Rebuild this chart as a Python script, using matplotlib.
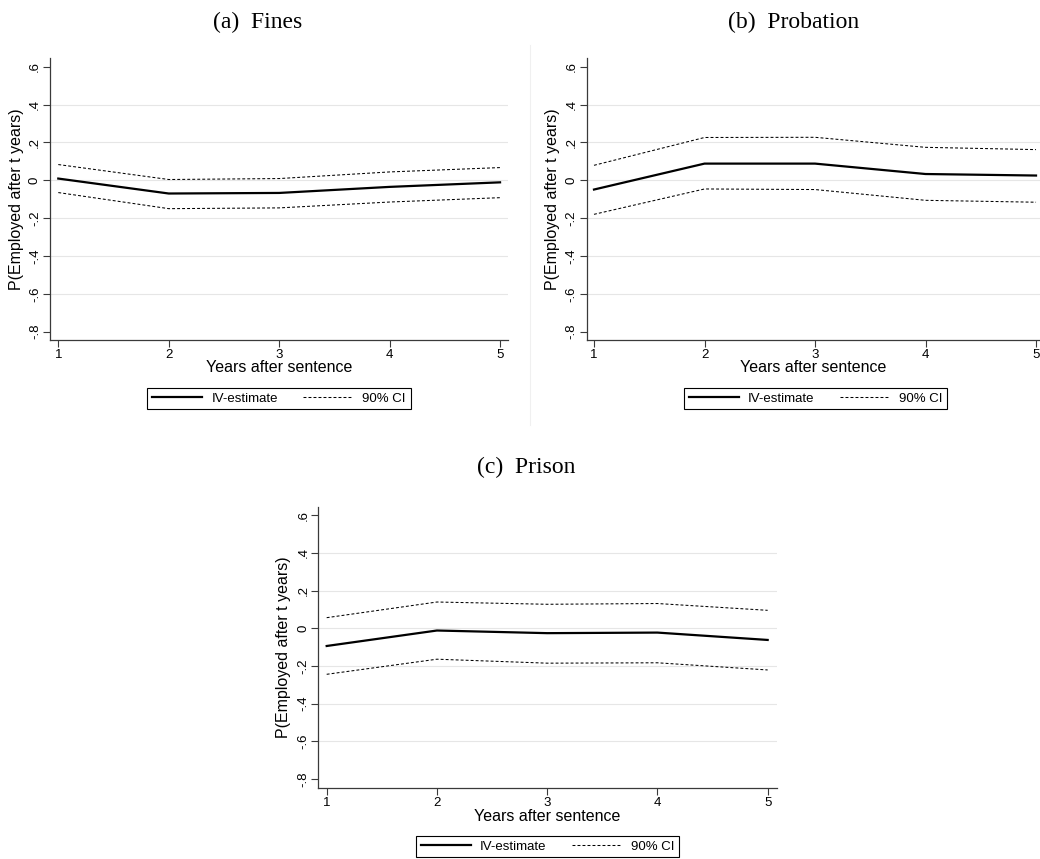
import matplotlib
matplotlib.use("Agg")
import matplotlib.pyplot as plt
from matplotlib.lines import Line2D

# Years after sentence
years = [1, 2, 3, 4, 5]

# IV estimates with 90% confidence bands
fines_est = [0.009, -0.070, -0.067, -0.035, -0.011]
fines_hi = [0.083, 0.004, 0.009, 0.044, 0.067]
fines_lo = [-0.065, -0.150, -0.146, -0.115, -0.092]

probation_est = [-0.049, 0.088, 0.088, 0.033, 0.025]
probation_hi = [0.079, 0.226, 0.227, 0.174, 0.162]
probation_lo = [-0.180, -0.046, -0.049, -0.106, -0.116]

prison_est = [-0.094, -0.012, -0.026, -0.023, -0.062]
prison_hi = [0.056, 0.139, 0.127, 0.131, 0.095]
prison_lo = [-0.244, -0.164, -0.185, -0.183, -0.221]

panel_titles = ["(a)  Fines", "(b)  Probation", "(c)  Prison"]
ytick_values = [0.6, 0.4, 0.2, 0.0, -0.2, -0.4, -0.6, -0.8]
ytick_labels = [".6", ".4", ".2", "0", "-.2", "-.4", "-.6", "-.8"]
grid_values = [0.4, 0.2, 0.0, -0.2, -0.4, -0.6]
xlabel = "Years after sentence"
ylabel = "P(Employed after t years)"
legend_labels = ["IV-estimate", "90% CI"]

W, H = 1040, 859
SANS = ["Liberation Sans", "DejaVu Sans"]
SERIF = ["Liberation Serif", "DejaVu Serif"]
AX_COLOR = "#3a3a3a"
DASH = (0, (2.8, 2.0))

fig = plt.figure(figsize=(W / 100, H / 100), dpi=100)
fig.patch.set_facecolor("white")


def px_axes(left, top, right, bottom):
    return fig.add_axes([left / W, 1 - bottom / H, (right - left) / W, (bottom - top) / H])


def draw_panel(ax, est, hi, lo, xlim, ylim, title_xy, legend_xy, ylab_off):
    for g in grid_values:
        ax.axhline(g, color="#e6e6e6", lw=0.8, zorder=0)
    ax.plot(years, hi, color="black", lw=0.75, ls=DASH, zorder=2)
    ax.plot(years, lo, color="black", lw=0.75, ls=DASH, zorder=2)
    ax.plot(years, est, color="black", lw=1.6, zorder=3)
    ax.set_xlim(*xlim)
    ax.set_ylim(*ylim)
    ax.set_xticks(years)
    ax.set_xticklabels([str(y) for y in years], fontsize=9.5, family=SANS)
    ax.set_yticks(ytick_values)
    ax.set_yticklabels(ytick_labels, fontsize=9.5, family=SANS, rotation=90, va="center")
    ax.tick_params(axis="both", direction="out", length=5, width=0.8, color=AX_COLOR)
    ax.tick_params(axis="y", pad=1.5)
    ax.tick_params(axis="x", pad=1.5)
    for s in ("top", "right"):
        ax.spines[s].set_visible(False)
    for s in ("left", "bottom"):
        ax.spines[s].set_color(AX_COLOR)
        ax.spines[s].set_linewidth(0.9)
    ax.set_facecolor("white")

    # axis labels placed in pixel offsets from the spines
    bb = ax.get_position()
    ax_w = bb.width * W
    ax_h = bb.height * H
    ax.set_xlabel(xlabel, fontsize=11.5, family=SANS)
    ax.xaxis.label.set_va("center")
    ax.xaxis.set_label_coords(0.5, -28 / ax_h)
    ax.set_ylabel(ylabel, fontsize=11.5, family=SANS)
    ax.yaxis.label.set_va("center")
    ax.yaxis.set_label_coords(-ylab_off / ax_w, 0.5)

    fig.text(title_xy[0] / W, 1 - title_xy[1] / H, ax.get_label(),
             fontsize=17, family=SERIF, ha="center", va="center")

    handles = [Line2D([], [], color="black", lw=1.6),
               Line2D([], [], color="black", lw=0.75, ls=DASH)]
    leg = ax.legend(handles, legend_labels, loc="center", ncol=2,
                    bbox_to_anchor=(legend_xy[0] / W, 1 - legend_xy[1] / H),
                    bbox_transform=fig.transFigure,
                    prop={"family": SANS, "size": 9.5},
                    frameon=True, fancybox=False, framealpha=1,
                    edgecolor="black", handlelength=3.8, handletextpad=0.7,
                    columnspacing=1.9, borderpad=0.35, borderaxespad=0)
    leg.get_frame().set_linewidth(0.8)


# panel (a) Fines
ax_a = px_axes(50, 58, 508, 340)
ax_a.set_label(panel_titles[0])
draw_panel(ax_a, fines_est, fines_hi, fines_lo,
           xlim=(0.925, 5.072), ylim=(-0.844, 0.646),
           title_xy=(258, 22), legend_xy=(279, 398.5), ylab_off=33)

# panel (b) Probation
ax_b = px_axes(586.7, 58, 1040, 340)
ax_b.set_label(panel_titles[1])
draw_panel(ax_b, probation_est, probation_hi, probation_lo,
           xlim=(0.934, 5.036), ylim=(-0.844, 0.646),
           title_xy=(794, 22), legend_xy=(815.5, 398.5), ylab_off=33.7)

# panel (c) Prison
ax_c = px_axes(318.3, 506.7, 776.7, 788.3)
ax_c.set_label(panel_titles[2])
draw_panel(ax_c, prison_est, prison_hi, prison_lo,
           xlim=(0.924, 5.082), ylim=(-0.848, 0.644),
           title_xy=(526, 467), legend_xy=(547.5, 846.5), ylab_off=35)

# faint separator between the upper panels
fig.add_artist(Line2D([530 / W, 530 / W], [1 - 45 / H, 1 - 425 / H],
                      transform=fig.transFigure, color="#f0f0f0", lw=0.8))

fig.savefig("out.png", dpi=100, facecolor="white")
